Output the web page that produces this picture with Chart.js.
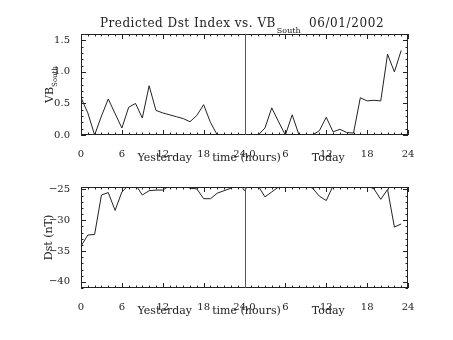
<!DOCTYPE html>
<html>
<head>
<meta charset="utf-8">
<script src="https://cdn.jsdelivr.net/npm/chart.js@4"></script>
<style>
  body { margin: 0; background: #fff; }
  #wrap { position: relative; width: 453px; height: 340px; }
  canvas { position: absolute; left: 0; }
</style>
</head>
<body>
<div id="wrap">
  <canvas id="vbChart" width="453" height="170" style="top:0"></canvas>
  <canvas id="dstChart" width="453" height="170" style="top:170px"></canvas>
</div>
<script>
/* ===========================
   DATA
=========================== */
const hours = [0, 1, 2, 3, 4, 5, 6, 7, 8, 9, 10, 11, 12, 13, 14, 15, 16, 17, 18, 19, 20, 21, 22, 23,
               24, 25, 26, 27, 28, 29, 30, 31, 32, 33, 34, 35, 36, 37, 38, 39, 40, 41, 42, 43, 44, 45, 46, 47];

const vbSouth = [0.59, 0.35, 0.00, 0.30, 0.57, 0.34, 0.11, 0.44, 0.50, 0.27, 0.78, 0.39,
                 0.35, 0.32, 0.29, 0.26, 0.21, 0.31, 0.48, 0.20, 0.00, 0.00, 0.00, 0.00,
                 0.00, 0.00, 0.00, 0.11, 0.43, 0.21, 0.00, 0.32, 0.00, 0.00, 0.00, 0.07,
                 0.28, 0.05, 0.09, 0.04, 0.03, 0.59, 0.54, 0.55, 0.54, 1.28, 1.00, 1.34];

const dst = [-34.2, -32.4, -32.3, -25.9, -25.5, -28.4, -25.4, -24.3, -24.2, -25.9, -25.2, -25.1,
             -25.1, -24.4, -24.0, -24.3, -24.8, -24.9, -26.5, -26.5, -25.6, -25.2, -24.8, -23.6,
             -25.2, -23.6, -24.4, -26.2, -25.4, -24.6, -24.0, -23.8, -24.0, -24.3, -24.8, -26.1,
             -26.8, -24.4, -24.0, -23.8, -24.0, -24.2, -24.4, -24.9, -26.6, -25.0, -31.1, -30.6];

const xTicks = [0, 6, 12, 18, 24, 30, 36, 42, 48];
const xTickLabels = ["0", "6", "12", "18", "24,0", "6", "12", "18", "24"];
const dayLabels = ["Yesterday", "time (hours)", "Today"];
const dayLabelHours = [12, 24, 36];

const titleMain = "Predicted Dst Index vs. VB";
const titleSub = "South";
const titleDate = "06/01/2002";

/* ===========================
   STYLE
=========================== */
const ink = "#222";
const serif = "'DejaVu Serif', serif";

/* ===========================
   IDL-STYLE FRAME PLUGIN
=========================== */
const idlFrame = {
    id: "idlFrame",
    afterDatasetsDraw(chart, args, o) {
        const { ctx, chartArea: a, scales: { x, y } } = chart;
        ctx.save();
        ctx.strokeStyle = ink;
        ctx.lineWidth = 1;

        // box + inward ticks
        ctx.strokeRect(a.left + 0.5, a.top + 0.5, a.right - a.left - 1, a.bottom - a.top - 1);
        ctx.beginPath();
        for (let h = x.min; h <= x.max; h++) {
            const px = Math.round(x.getPixelForValue(h)) + 0.5;
            const len = h % 6 === 0 ? 5 : 2.5;
            ctx.moveTo(px, a.bottom); ctx.lineTo(px, a.bottom - len);
            ctx.moveTo(px, a.top); ctx.lineTo(px, a.top + len);
        }
        const n0 = Math.ceil(y.min / o.minor - 1e-6);
        const n1 = Math.floor(y.max / o.minor + 1e-6);
        for (let k = n0; k <= n1; k++) {
            const v = k * o.minor;
            const py = Math.round(y.getPixelForValue(v)) + 0.5;
            const major = Math.abs(v / o.major - Math.round(v / o.major)) < 1e-6;
            const len = major ? 5 : 2.5;
            ctx.moveTo(a.left, py); ctx.lineTo(a.left + len, py);
            ctx.moveTo(a.right, py); ctx.lineTo(a.right - len, py);
        }
        ctx.stroke();

        // day divider
        ctx.strokeStyle = "#555";
        ctx.beginPath();
        const mx = Math.round(x.getPixelForValue(24)) + 0.5;
        ctx.moveTo(mx, a.top); ctx.lineTo(mx, a.bottom);
        ctx.stroke();

        // labels under the x axis
        ctx.fillStyle = ink;
        ctx.font = "11px " + serif;
        ctx.textAlign = "center";
        ctx.textBaseline = "middle";
        dayLabels.forEach((t, i) => {
            ctx.fillText(t, x.getPixelForValue(dayLabelHours[i]) + 2, a.bottom + 23);
        });

        // title
        if (o.title) {
            ctx.save();
            ctx.textAlign = "left";
            ctx.textBaseline = "alphabetic";
            ctx.letterSpacing = "0.5px";
            ctx.font = "12px " + serif;
            ctx.fillText(titleMain, 100, 27);
            const w = ctx.measureText(titleMain).width;
            ctx.letterSpacing = "0px";
            ctx.font = "8px " + serif;
            ctx.fillText(titleSub, 100 + w + 1, 33);
            ctx.letterSpacing = "0.6px";
            ctx.font = "12px " + serif;
            ctx.fillText(titleDate, 309, 27);
            ctx.restore();
        }

        // rotated y label with optional subscript
        ctx.translate(o.yLabelX, (a.top + a.bottom) / 2);
        ctx.rotate(-Math.PI / 2);
        ctx.textAlign = "left";
        ctx.textBaseline = "alphabetic";
        ctx.font = "11px " + serif;
        const w1 = ctx.measureText(o.yLabel).width;
        let w2 = 0;
        if (o.yLabelSub) {
            ctx.font = "7px " + serif;
            w2 = ctx.measureText(o.yLabelSub).width;
        }
        const start = -(w1 + w2) / 2;
        ctx.font = "11px " + serif;
        ctx.fillText(o.yLabel, start, 0);
        if (o.yLabelSub) {
            ctx.font = "7px " + serif;
            ctx.fillText(o.yLabelSub, start + w1, 4);
        }
        ctx.restore();
    }
};

/* ===========================
   CHARTS
=========================== */
function makeChart(id, values, yMin, yMax, yStep, yFmt, padTop, xAxisH, frameOpts) {
    return new Chart(document.getElementById(id), {
        type: "line",
        data: {
            datasets: [{
                data: hours.map((h, i) => ({ x: h, y: values[i] })),
                borderColor: ink,
                borderWidth: 1,
                pointRadius: 0,
                tension: 0
            }]
        },
        options: {
            responsive: false,
            animation: false,
            layout: { padding: { top: padTop, right: 45, left: 0, bottom: 0 } },
            plugins: {
                legend: { display: false },
                tooltip: { enabled: false },
                idlFrame: frameOpts
            },
            scales: {
                x: {
                    type: "linear",
                    min: 0,
                    max: 48,
                    grid: { display: false },
                    border: { display: false },
                    afterFit: s => { s.height = xAxisH; },
                    ticks: {
                        stepSize: 6,
                        autoSkip: false,
                        maxRotation: 0,
                        padding: 5,
                        color: ink,
                        font: { family: serif, size: 10 },
                        callback: v => {
                            const i = xTicks.indexOf(v);
                            return i < 0 ? "" : xTickLabels[i];
                        }
                    }
                },
                y: {
                    min: yMin,
                    max: yMax,
                    grid: { display: false },
                    border: { display: false },
                    afterFit: s => { s.width = 81; },
                    ticks: {
                        stepSize: yStep,
                        includeBounds: false,
                        padding: 3,
                        color: ink,
                        font: { family: serif, size: 10 },
                        callback: yFmt
                    }
                }
            }
        },
        plugins: [idlFrame]
    });
}

makeChart("vbChart", vbSouth, 0, 1.6, 0.5, v => v.toFixed(1), 34, 35,
    { minor: 0.1, major: 0.5, yLabel: "VB", yLabelSub: "South", yLabelX: 53, title: true });

makeChart("dstChart", dst, -41, -24.6, 5, v => String(v).replace("-", "\u2212"), 17, 52,
    { minor: 1, major: 5, yLabel: "Dst (nT)", yLabelSub: "", yLabelX: 52, title: false });
</script>
</body>
</html>
